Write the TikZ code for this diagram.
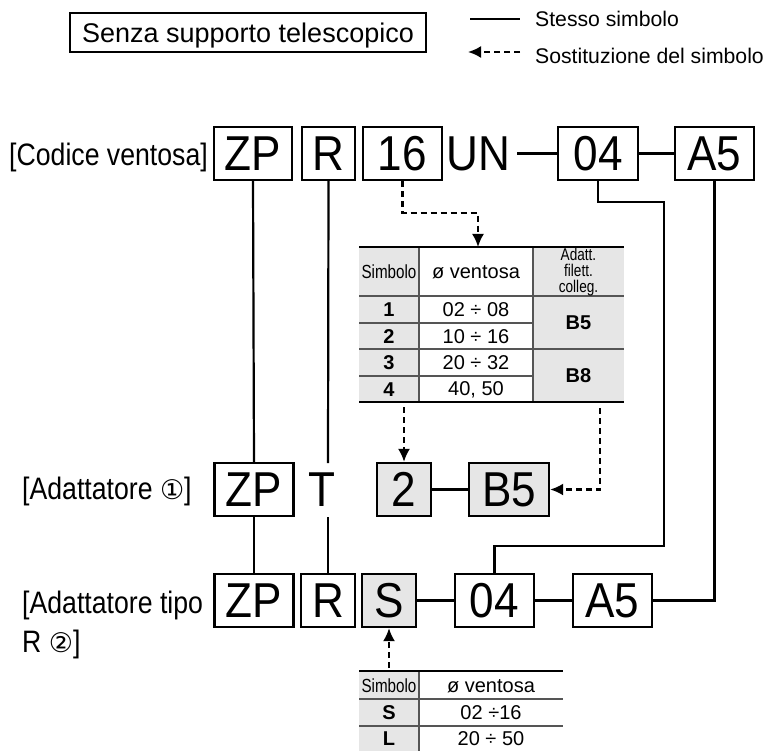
\documentclass[tikz,border=0pt]{standalone}
\usepackage{fontspec}
\setmainfont{Liberation Sans}
\newfontfamily\bigf[FakeStretch=0.9]{Liberation Sans}
\newfontfamily\condf[FakeStretch=0.86]{Liberation Sans}
\newfontfamily\narrowf[FakeStretch=0.8]{Liberation Sans}
\newfontfamily\circf{DejaVu Sans}
\usetikzlibrary{arrows.meta}
\definecolor{tabgray}{RGB}{230,230,230}
\definecolor{tabline}{RGB}{85,85,85}
\begin{document}
\begin{tikzpicture}[x=1pt,y=-1pt,
 bx/.style={draw, line width=2.3pt, inner sep=0pt, minimum height=53pt, font=\bigf\fontsize{49}{50}\selectfont},
 gbx/.style={bx, fill=tabgray},
 bigtxt/.style={inner sep=0pt, font=\bigf\fontsize{49}{50}\selectfont},
 same/.style={line width=2.2pt},
 hconn/.style={line width=3.8pt},
 subst/.style={line width=2.1pt, dash pattern=on 6pt off 4pt, -{Latex[length=13pt,width=12pt]}},
 lab/.style={inner sep=0pt, anchor=base west, font=\condf\fontsize{31}{33}\selectfont},
 leg/.style={inner sep=0pt, anchor=base west, font=\fontsize{21.2}{24}\selectfont},
 th/.style={inner sep=0pt, font=\narrowf\fontsize{19}{16}\selectfont, align=center},
 th3/.style={inner sep=0pt, font=\narrowf\fontsize{17}{16}\selectfont, align=center},
 td/.style={inner sep=0pt, font=\fontsize{20}{22}\selectfont},
 tb/.style={inner sep=0pt, font=\bfseries\fontsize{20}{22}\selectfont},
 tline/.style={draw=tabline, line width=1.3pt},
 tedge/.style={line width=2.3pt}
]
\useasboundingbox (0,0) rectangle (768,751);

% title and legend
\node[draw, line width=1.4pt, minimum width=356pt, minimum height=39pt, inner sep=0pt,
      text height=19.5pt, text depth=0pt, font=\fontsize{27}{30}\selectfont] (title) at (248,32.5) {Senza supporto telescopico};
\coordinate (ls1) at (470,19);
\coordinate (ls2) at (520,19);
\draw[same] (ls1) -- (ls2);
\node[leg] (legsame) at (535,27) {Stesso simbolo};
\coordinate (ld1) at (520,52);
\coordinate (ld2) at (468,52);
\draw[subst] (ld1) -- (ld2);
\node[leg] (legsubst) at (535,64) {Sostituzione del simbolo};

% row labels
\node[lab] (lab1) at (9,166) {[Codice ventosa]};
\node[lab] (lab2) at (22,499) {[Adattatore {\circf\fontsize{27}{28}\selectfont ①}]};
\node[lab] (lab3a) at (22,613) {[Adattatore tipo};
\node[lab] (lab3b) at (22,652) {R {\circf\fontsize{27}{28}\selectfont ②}]};

% row 1
\node[bx, minimum width=78pt] (zp1) at (253,153.5) {ZP};
\node[bx, minimum width=53pt] (r1) at (328.5,153.5) {R};
\node[bx, minimum width=79pt] (n16) at (402.5,153.5) {16};
\node[bigtxt, anchor=west] (un) at (446,153.5) {UN};
\node[bx, minimum width=80pt] (o4a) at (598,153.5) {04};
\node[bx, minimum width=79pt] (a5a) at (714.5,153.5) {A5};

% row 2
\node[bx, minimum width=79pt] (zp2) at (254,489.5) {ZP};
\node[bigtxt] (t2) at (322,489.5) {T};
\node[gbx, minimum width=54pt] (b2) at (404,489.5) {2};
\node[gbx, minimum width=80pt] (b5) at (509,489.5) {B5};

% row 3
\node[bx, minimum width=79pt] (zp3) at (254,600.5) {ZP};
\node[bx, minimum width=54pt] (r3) at (328,600.5) {R};
\node[gbx, minimum width=54pt] (s3) at (389,600.5) {S};
\node[bx, minimum width=79pt] (o4b) at (494.5,600.5) {04};
\node[bx, minimum width=79pt] (a5b) at (612.5,600.5) {A5};

% horizontal joins
\draw[hconn] ([xshift=7pt]un.east) -- (o4a.west);
\draw[hconn] (o4a.east) -- (a5a.west);
\draw[hconn] (b2.east) -- (b5.west);
\draw[hconn] (s3.east) -- (o4b.west);
\draw[hconn] (o4b.east) -- (a5b.west);

% same-symbol connectors
\draw[same] (zp1.south) -- (zp2.north);
\draw[same] (zp2.south) -- (zp3.north);
\coordinate (rT1) at (328,463);
\coordinate (rT2) at (328,517);
\draw[same] (r1.south) -- (rT1);
\draw[same] (rT2) -- (r3.north);
\coordinate (k1) at (664,202);
\coordinate (k2) at (664,546);
\draw[same] (o4a.south) |- (k1) -- (k2) -| (o4b.north);
\draw[same] (a5a.south) |- (a5b.east);

% table 1
\fill[tabgray] (359,247) rectangle (419,402);
\fill[tabgray] (533,247) rectangle (624,402);
\draw[tline] (419,247) -- (419,402);
\draw[tline] (533,247) -- (533,402);
\draw[tline] (359,296) -- (624,296);
\draw[tline] (359,323) -- (533,323);
\draw[tline] (359,349) -- (624,349);
\draw[tline] (359,376) -- (533,376);
\draw[tedge] (359,247) -- (624,247);
\draw[tedge] (359,402) -- (624,402);
\node[th] (h1) at (389,272) {Simbolo};
\node[td] (h2) at (476,272) {ø ventosa};
\node[th3] (h3) at (578.5,272) {Adatt.\\filett.\\colleg.};
\node[tb] (s1) at (389,310) {1};
\node[tb] (s2) at (389,336.5) {2};
\node[tb] (s3t) at (389,363) {3};
\node[tb] (s4) at (389,389.5) {4};
\node[td] (v1) at (476,310) {02 ÷ 08};
\node[td] (v2) at (476,336.5) {10 ÷ 16};
\node[td] (v3) at (476,363) {20 ÷ 32};
\node[td] (v4) at (476,389.5) {40, 50};
\node[tb] (aB5) at (578.5,323) {B5};
\node[tb] (aB8) at (578.5,376) {B8};

% table 2
\fill[tabgray] (359,672) rectangle (419,751);
\draw[tline] (419,672) -- (419,751);
\draw[tline] (359,699) -- (563,699);
\draw[tline] (359,726) -- (563,726);
\draw[tedge] (359,671) -- (563,671);
\node[th] (g1) at (389,686) {Simbolo};
\node[td] (g2) at (491,686) {ø ventosa};
\node[tb] (gS) at (389,713) {S};
\node[td] (gv1) at (491,713) {02 ÷16};
\node[tb] (gL) at (389,739) {L};
\node[td] (gv2) at (491,739) {20 ÷ 50};

% substitution arrows
\coordinate (tt) at (478,247);
\draw[subst] (n16.south) -- ++(0,32) -| (tt);
\coordinate (t1a) at (404,407);
\draw[subst] (t1a) -- (b2.north);
\coordinate (t1b) at (600,408);
\draw[subst] (t1b) |- (b5.east);
\coordinate (t2a) at (389,668);
\draw[subst] (t2a) -- (s3.south);
\end{tikzpicture}
\end{document}
